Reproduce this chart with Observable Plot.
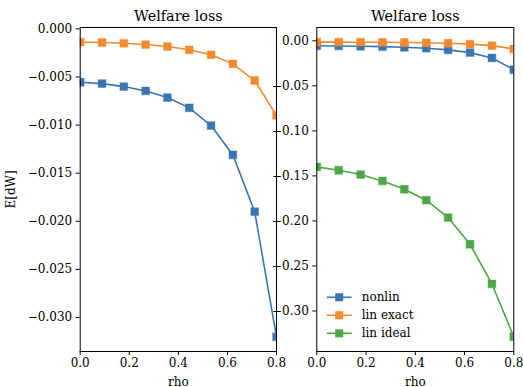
<!DOCTYPE html>
<html>
<head>
<meta charset="utf-8">
<script src="https://cdn.jsdelivr.net/npm/d3@7"></script>
<script src="https://cdn.jsdelivr.net/npm/@observablehq/plot@0.6"></script>
<style>
  html, body { margin: 0; padding: 0; background: white; }
  #wrap { position: relative; width: 523px; height: 387px; overflow: hidden; background: white; font-family: "DejaVu Serif", serif; }
  #wrap > svg { position: absolute; top: 0; }
  #wrap svg text { font-family: "DejaVu Serif", serif; }
</style>
</head>
<body>
<div id="wrap"></div>
<script>
const rho = [0, 0.0889, 0.1778, 0.2667, 0.3556, 0.4444, 0.5333, 0.6222, 0.7111, 0.8];
const nonlin = [-0.00555, -0.00569, -0.0060, -0.00645, -0.00714, -0.00821, -0.01005, -0.0131, -0.0190, -0.0320];
const linExact = [-0.00139, -0.00142, -0.0015, -0.00163, -0.00184, -0.00218, -0.0027, -0.00364, -0.00537, -0.0090];
const linIdeal = [-0.140, -0.1437, -0.1485, -0.1556, -0.1648, -0.177, -0.1963, -0.2259, -0.270, -0.3286];
const seriesNames = ["nonlin", "lin exact", "lin ideal"];
const colors = ["#3a75b0", "#f28b30", "#4ea646"];
const xTicks = [0, 0.2, 0.4, 0.6, 0.8];
const yTicksLeft = [0, -0.005, -0.010, -0.015, -0.020, -0.025, -0.030];
const yTicksRight = [0, -0.05, -0.10, -0.15, -0.20, -0.25, -0.30];
const title = "Welfare loss";

function rows(vals, name) { return rho.map((r, i) => ({rho: r, v: vals[i], s: name})); }

function panel({series, yDomain, yTicks, fmt, width, ml, mr, ylabel}) {
  const marks = [];
  marks.push(Plot.axisX({ticks: xTicks, tickFormat: d3.format(".1f"), tickSize: 4, tickPadding: 3, fontFamily: "DejaVu Serif",
    label: "rho", labelAnchor: "center", labelArrow: "none", labelOffset: 34}));
  marks.push(Plot.axisY({ticks: yTicks, tickFormat: d3.format(fmt), tickSize: 4, tickPadding: 4, fontFamily: "DejaVu Serif",
    label: ylabel, labelAnchor: "center", labelArrow: "none", labelOffset: 74}));
  series.forEach(([vals, name]) => {
    const c = colors[seriesNames.indexOf(name)];
    const d = rows(vals, name);
    marks.push(Plot.line(d, {x: "rho", y: "v", stroke: c, strokeWidth: 1.6, clip: true}));
    marks.push(Plot.dot(d, {x: "rho", y: "v", symbol: "square", r: 4.4, fill: c, stroke: c, strokeOpacity: 0.35, strokeWidth: 1.2, clip: true}));
  });
  marks.push(Plot.frame({stroke: "black", strokeWidth: 1}));
  marks.push(Plot.text([title], {frameAnchor: "top", dy: -7, lineAnchor: "bottom", fontSize: 14.4, fill: "black", fontFamily: "DejaVu Serif"}));
  return Plot.plot({
    width, height: 387, marginLeft: ml, marginRight: mr, marginTop: 27, marginBottom: 36,
    style: {fontFamily: "DejaVu Serif", fontSize: "12px", color: "black", background: "none", overflow: "visible"},
    x: {domain: [0, 0.8]},
    y: {domain: yDomain},
    marks
  });
}

const wrap = document.getElementById("wrap");
const left = panel({series: [[nonlin, "nonlin"], [linExact, "lin exact"]],
  yDomain: [-0.03353, 0.00014], yTicks: yTicksLeft, fmt: ".3f", width: 285, ml: 79.7, mr: 9, ylabel: "E[dW]"});
left.style.left = "0px";
wrap.appendChild(left);
const right = panel({series: [[nonlin, "nonlin"], [linExact, "lin exact"], [linIdeal, "lin ideal"]],
  yDomain: [-0.345, 0.0148], yTicks: yTicksRight, fmt: ".2f", width: 243, ml: 36.3, mr: 9.7, ylabel: null});
right.style.left = "280px";
wrap.appendChild(right);

// legend
const ns = "http://www.w3.org/2000/svg";
const lg = document.createElementNS(ns, "svg");
lg.setAttribute("width", 120); lg.setAttribute("height", 60);
lg.style.position = "absolute"; lg.style.left = "322px"; lg.style.top = "288px";
seriesNames.forEach((n, i) => {
  const y = 9.3 + i * 18;
  const l = document.createElementNS(ns, "line");
  l.setAttribute("x1", 4.7); l.setAttribute("x2", 29.7); l.setAttribute("y1", y); l.setAttribute("y2", y);
  l.setAttribute("stroke", colors[i]); l.setAttribute("stroke-width", 1.6);
  lg.appendChild(l);
  const r = document.createElementNS(ns, "rect");
  r.setAttribute("x", 17.2 - 4); r.setAttribute("y", y - 4); r.setAttribute("width", 8); r.setAttribute("height", 8);
  r.setAttribute("fill", colors[i]);
  lg.appendChild(r);
  const t = document.createElementNS(ns, "text");
  t.setAttribute("x", 39.7); t.setAttribute("y", y + 4);
  t.setAttribute("font-family", "DejaVu Serif"); t.setAttribute("font-size", 12);
  t.textContent = n;
  lg.appendChild(t);
});
wrap.appendChild(lg);
</script>
</body>
</html>
